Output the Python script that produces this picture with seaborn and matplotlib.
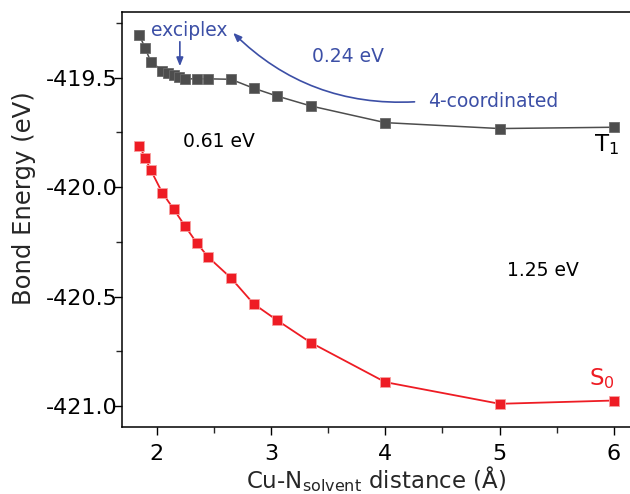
import matplotlib
matplotlib.use("Agg")
import matplotlib.pyplot as plt
import seaborn as sns
import pandas as pd

# T1 (grau) werte
t1_dist = [1.85, 1.90, 1.95, 2.05, 2.10, 2.15, 2.20, 2.25, 2.35, 2.45, 2.65, 2.85, 3.05, 3.35, 4.0, 5.0, 6.0]
t1_energy = [-419.305, -419.365, -419.426, -419.468, -419.477, -419.487, -419.498, -419.505,
             -419.505, -419.505, -419.507, -419.548, -419.583, -419.629, -419.705, -419.732, -419.726]

# S0 (rot) werte
s0_dist = [1.85, 1.90, 1.95, 2.05, 2.15, 2.25, 2.35, 2.45, 2.65, 2.85, 3.05, 3.35, 4.0, 5.0, 6.0]
s0_energy = [-419.81, -419.865, -419.922, -420.025, -420.10, -420.178, -420.253, -420.318,
             -420.414, -420.533, -420.606, -420.71, -420.89, -420.989, -420.974]

df_t1 = pd.DataFrame({"dist": t1_dist, "energy": t1_energy})
df_s0 = pd.DataFrame({"dist": s0_dist, "energy": s0_energy})

sns.set_style("ticks")
plt.rcParams["font.family"] = ["DejaVu Sans"]

grau = "#4d4d4d"
rot = "#ee1c24"
blau = "#3c4fa6"

fig = plt.figure(figsize=(6.3, 4.94), dpi=100)
ax = fig.add_axes([0.194, 0.1356, 0.806, 0.840])

sns.lineplot(data=df_t1, x="dist", y="energy", ax=ax, color=grau, lw=1.1,
             marker="s", markersize=6.5, markeredgecolor="#6a6a6a", markeredgewidth=0.6)
sns.lineplot(data=df_s0, x="dist", y="energy", ax=ax, color=rot, lw=1.3,
             marker="s", markersize=6.5, markeredgecolor="#f7a0a0", markeredgewidth=0.6)

ax.set_xlim(1.70, 6.14)
ax.set_ylim(-421.095, -419.2)
ax.set_xticks([2, 3, 4, 5, 6])
ax.set_xticks([2.5, 3.5, 4.5, 5.5], minor=True)
ax.set_yticks([-421.0, -420.5, -420.0, -419.5])
ax.set_yticks([-420.75, -420.25, -419.75, -419.25], minor=True)
ax.set_yticklabels(["-421.0", "-420.5", "-420.0", "-419.5"])
ax.tick_params(axis="both", which="major", direction="out", length=6, width=1, labelsize=16, colors="black")
ax.tick_params(axis="both", which="minor", direction="out", length=4, width=1)
ax.tick_params(axis="x", pad=6)
ax.tick_params(axis="y", pad=-3)
for s in ["left", "bottom", "top"]:
    ax.spines[s].set_linewidth(1.1)
    ax.spines[s].set_color("black")
ax.spines["right"].set_visible(False)

ax.set_xlabel("Cu-N$_\\mathregular{solvent}$ distance (Å)", fontsize=16.5, labelpad=0)
ax.set_ylabel("Bond Energy (eV)", fontsize=17.5)
ax.yaxis.set_label_coords(-0.170, 0.552)

# beschriftungen
ax.text(2.29, -419.282, "exciplex", color=blau, fontsize=13.5, ha="center", va="center")
ax.text(3.67, -419.405, "0.24 eV", color=blau, fontsize=13.5, ha="center", va="center")
ax.text(4.94, -419.61, "4-coordinated", color=blau, fontsize=13.5, ha="center", va="center")
ax.text(2.55, -419.793, "0.61 eV", color="black", fontsize=13.5, ha="center", va="center")
ax.text(5.375, -420.382, "1.25 eV", color="black", fontsize=13.5, ha="center", va="center")
ax.text(5.93, -419.807, "T$_\\mathregular{1}$", color="black", fontsize=16.5, ha="center", va="center")
ax.text(5.89, -420.875, "S$_\\mathregular{0}$", color=rot, fontsize=16.5, ha="center", va="center")

# pfeile
ax.annotate("", xy=(2.204, -419.46), xytext=(2.204, -419.323),
            arrowprops=dict(arrowstyle="-|>,head_length=0.5,head_width=0.2", color=blau, lw=1.2))
ax.annotate("", xy=(2.67, -419.295), xytext=(4.256, -419.61),
            arrowprops=dict(arrowstyle="-|>,head_length=0.5,head_width=0.2", color=blau, lw=1.2,
                            shrinkA=0, shrinkB=0, connectionstyle="arc3,rad=-0.22"))

plt.savefig("out.png", dpi=100)
